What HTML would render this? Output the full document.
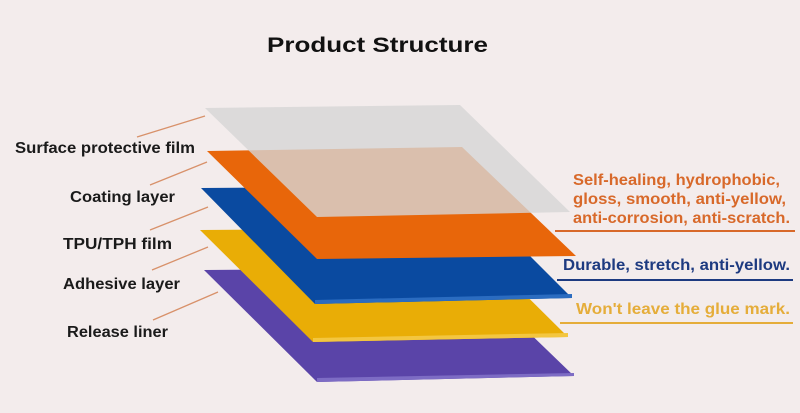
<!DOCTYPE html>
<html><head><meta charset="utf-8"><style>
html,body{margin:0;padding:0;background:#f3ecec;}
svg{display:block;}
text{font-family:"Liberation Sans",sans-serif;font-weight:bold;}
</style></head><body>
<svg width="800" height="413" viewBox="0 0 800 413" xmlns="http://www.w3.org/2000/svg">
<rect width="800" height="413" fill="#f3ecec"/>
<text x="267" y="52" font-size="21" textLength="221" lengthAdjust="spacingAndGlyphs" fill="#111">Product Structure</text>
<!-- purple -->
<polygon points="204,270 462,268 574,376 317,382" fill="#5a44a8"/>
<polygon points="317,378 574,373 574,376 317,382" fill="#7d6cc4"/>
<!-- yellow -->
<polygon points="200,230 458,228 568,337 313,342" fill="#e9ad06"/>
<polygon points="313,338 568,333 568,337 313,342" fill="#f3c640"/>
<!-- blue -->
<polygon points="201,188 460,186 572,298 315,304" fill="#0a4aa0"/>
<polygon points="315,300 572,294 572,298 315,304" fill="#2b6cc0"/>
<!-- orange -->
<polygon points="207,151 462,147 576,256 317,259" fill="#e8660a"/>
<!-- gray -->
<polygon points="205,108 460,105 570,212 317,217" fill="#d6d6d6" fill-opacity="0.8"/>
<!-- label leaders -->
<g stroke="#d8916a" stroke-width="1.3">
<line x1="205" y1="116" x2="137" y2="137"/>
<line x1="207" y1="162" x2="150" y2="185"/>
<line x1="208" y1="207" x2="150" y2="230"/>
<line x1="208" y1="247" x2="152" y2="270"/>
<line x1="218" y1="292" x2="153" y2="320"/>
</g>
<g font-size="16" fill="#1a1a1a" lengthAdjust="spacingAndGlyphs">
<text x="15" y="153" textLength="180" lengthAdjust="spacingAndGlyphs">Surface protective film</text>
<text x="70" y="202" textLength="105" lengthAdjust="spacingAndGlyphs">Coating layer</text>
<text x="63" y="249" textLength="109" lengthAdjust="spacingAndGlyphs">TPU/TPH film</text>
<text x="63" y="289" textLength="117" lengthAdjust="spacingAndGlyphs">Adhesive layer</text>
<text x="67" y="337" textLength="101" lengthAdjust="spacingAndGlyphs">Release liner</text>
</g>
<g font-size="16" fill="#d8692a">
<text x="573" y="185" textLength="207" lengthAdjust="spacingAndGlyphs">Self-healing, hydrophobic,</text>
<text x="573" y="204" textLength="213" lengthAdjust="spacingAndGlyphs">gloss, smooth, anti-yellow,</text>
<text x="573" y="223" textLength="217" lengthAdjust="spacingAndGlyphs">anti-corrosion, anti-scratch.</text>
</g>
<line x1="555" y1="231" x2="795" y2="231" stroke="#d8692a" stroke-width="2"/>
<text x="563" y="270" font-size="16" textLength="227" lengthAdjust="spacingAndGlyphs" fill="#1d3a80">Durable, stretch, anti-yellow.</text>
<line x1="557" y1="280" x2="793" y2="280" stroke="#1d3a80" stroke-width="2"/>
<text x="576" y="314" font-size="16" textLength="214" lengthAdjust="spacingAndGlyphs" fill="#e5ad3a">Won't leave the glue mark.</text>
<line x1="560" y1="323" x2="793" y2="323" stroke="#e5ad3a" stroke-width="2"/>
</svg>
</body></html>
